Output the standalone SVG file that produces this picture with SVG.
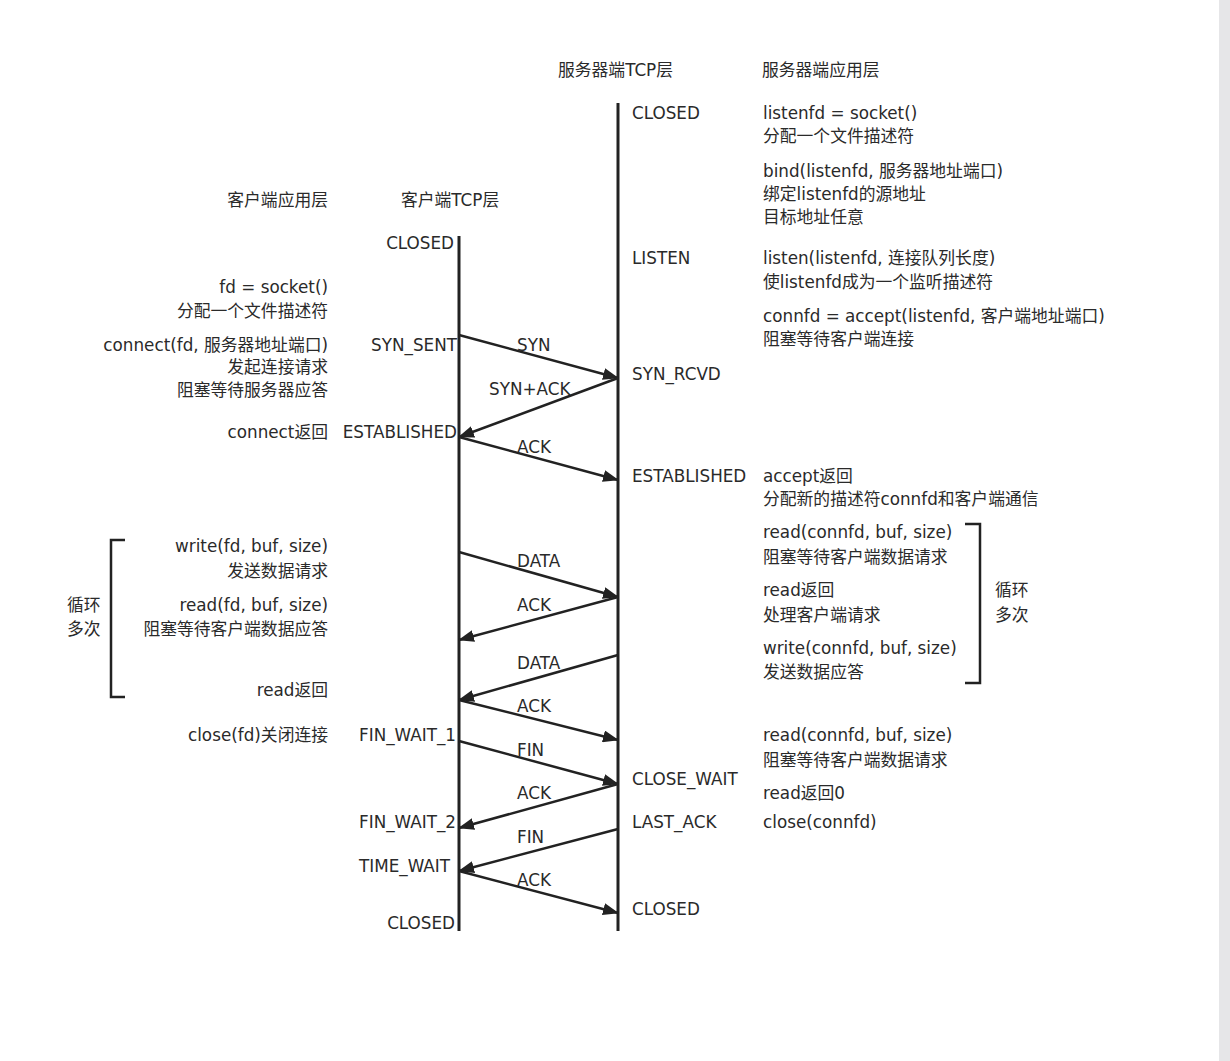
<svg xmlns="http://www.w3.org/2000/svg" width="1230" height="1061" viewBox="0 0 1230 1061">
<style>
text{font-family:"DejaVu Sans","Noto Sans CJK SC",sans-serif;font-size:16.8px;fill:#2a2a2a}
.e{text-anchor:end}
.life{stroke:#222;stroke-width:3;fill:none}
.msg{stroke:#222;stroke-width:2.5;fill:none;marker-end:url(#ah)}
.br{stroke:#222;stroke-width:2.5;fill:none}
</style>
<defs>
<marker id="ah" markerUnits="userSpaceOnUse" markerWidth="16" markerHeight="12" refX="15" refY="6" orient="auto">
<path d="M0,0 L16,6 L0,12 Z" fill="#222"/>
</marker>
</defs>
<rect x="0" y="0" width="1230" height="1061" fill="#ffffff"/>
<rect x="1219" y="0" width="11" height="1061" fill="#e6e6e8"/>

<g id="headers">
<text x="558" y="76">服务器端TCP层</text>
<text x="762" y="76">服务器端应用层</text>
<text x="328" y="206" class="e">客户端应用层</text>
<text x="401" y="206">客户端TCP层</text>
</g>

<g id="client-lifeline"><line class="life" x1="459" y1="236" x2="459" y2="931"/></g>
<g id="server-lifeline"><line class="life" x1="618" y1="103" x2="618" y2="931"/></g>

<g id="connectors">
<line class="msg" x1="459" y1="335" x2="618" y2="378"/>
<line class="msg" x1="618" y1="378" x2="459" y2="437"/>
<line class="msg" x1="459" y1="437" x2="618" y2="480"/>
<line class="msg" x1="459" y1="552" x2="618" y2="597"/>
<line class="msg" x1="618" y1="597" x2="459" y2="640"/>
<line class="msg" x1="618" y1="655" x2="459" y2="700"/>
<line class="msg" x1="459" y1="700" x2="618" y2="740"/>
<line class="msg" x1="459" y1="741" x2="618" y2="784"/>
<line class="msg" x1="618" y1="784" x2="459" y2="828"/>
<line class="msg" x1="618" y1="829" x2="459" y2="871"/>
<line class="msg" x1="459" y1="871" x2="618" y2="913"/>
</g>

<g id="msg-labels">
<text x="517" y="351">SYN</text>
<text x="489" y="395">SYN+ACK</text>
<text x="517" y="453">ACK</text>
<text x="517" y="567">DATA</text>
<text x="517" y="611">ACK</text>
<text x="517" y="669">DATA</text>
<text x="517" y="712">ACK</text>
<text x="517" y="756">FIN</text>
<text x="517" y="799">ACK</text>
<text x="517" y="843">FIN</text>
<text x="517" y="886">ACK</text>
</g>

<g id="server-states">
<text x="632" y="119">CLOSED</text>
<text x="632" y="264">LISTEN</text>
<text x="632" y="380">SYN_RCVD</text>
<text x="632" y="482">ESTABLISHED</text>
<text x="632" y="785">CLOSE_WAIT</text>
<text x="632" y="828">LAST_ACK</text>
<text x="632" y="915">CLOSED</text>
</g>

<g id="client-states">
<text x="454" y="249" class="e">CLOSED</text>
<text x="457" y="351" class="e">SYN_SENT</text>
<text x="457" y="438" class="e">ESTABLISHED</text>
<text x="456" y="741" class="e">FIN_WAIT_1</text>
<text x="456" y="828" class="e">FIN_WAIT_2</text>
<text x="450" y="872" class="e">TIME_WAIT</text>
<text x="455" y="929" class="e">CLOSED</text>
</g>

<g id="client-app">
<text x="328" y="293" class="e">fd = socket()</text>
<text x="328" y="317" class="e">分配一个文件描述符</text>
<text x="328" y="351" class="e">connect(fd, 服务器地址端口)</text>
<text x="328" y="373" class="e">发起连接请求</text>
<text x="328" y="396" class="e">阻塞等待服务器应答</text>
<text x="328" y="438" class="e">connect返回</text>
<text x="328" y="552" class="e">write(fd, buf, size)</text>
<text x="328" y="577" class="e">发送数据请求</text>
<text x="328" y="611" class="e">read(fd, buf, size)</text>
<text x="328" y="635" class="e">阻塞等待客户端数据应答</text>
<text x="328" y="696" class="e">read返回</text>
<text x="328" y="741" class="e">close(fd)关闭连接</text>
</g>

<g id="client-loop">
<path class="br" d="M125,540 L111,540 L111,697 L125,697"/>
<text x="67" y="611">循环</text>
<text x="67" y="635">多次</text>
</g>

<g id="server-app">
<text x="763" y="119">listenfd = socket()</text>
<text x="763" y="142">分配一个文件描述符</text>
<text x="763" y="177">bind(listenfd, 服务器地址端口)</text>
<text x="763" y="200">绑定listenfd的源地址</text>
<text x="763" y="223">目标地址任意</text>
<text x="763" y="264">listen(listenfd, 连接队列长度)</text>
<text x="763" y="288">使listenfd成为一个监听描述符</text>
<text x="763" y="322">connfd = accept(listenfd, 客户端地址端口)</text>
<text x="763" y="345">阻塞等待客户端连接</text>
<text x="763" y="482">accept返回</text>
<text x="763" y="505">分配新的描述符connfd和客户端通信</text>
<text x="763" y="538">read(connfd, buf, size)</text>
<text x="763" y="563">阻塞等待客户端数据请求</text>
<text x="763" y="596">read返回</text>
<text x="763" y="621">处理客户端请求</text>
<text x="763" y="654">write(connfd, buf, size)</text>
<text x="763" y="678">发送数据应答</text>
<text x="763" y="741">read(connfd, buf, size)</text>
<text x="763" y="766">阻塞等待客户端数据请求</text>
<text x="763" y="799">read返回0</text>
<text x="763" y="828">close(connfd)</text>
</g>

<g id="server-loop">
<path class="br" d="M965,524 L980,524 L980,683 L965,683"/>
<text x="995" y="596">循环</text>
<text x="995" y="621">多次</text>
</g>
</svg>
